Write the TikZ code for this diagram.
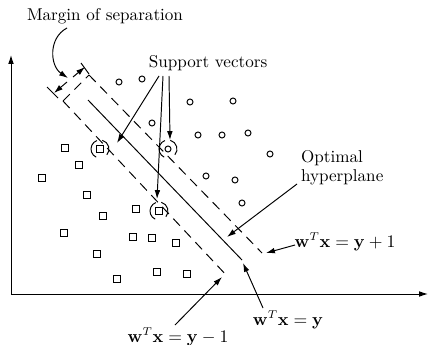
\documentclass[tikz,border=0pt]{standalone}
\usetikzlibrary{arrows.meta}
\begin{document}
\begin{tikzpicture}[x=0.62pt,y=-0.62pt,
  every path/.style={line width=0.6pt},
  arr/.style={-{Latex[length=5.5pt,width=3.5pt]}},
  dsh/.style={dash pattern=on 6pt off 4pt},
  lbl/.style={inner sep=1pt,font=\fontsize{10.6pt}{12pt}\selectfont}]
\useasboundingbox (0,0) rectangle (429,344);
% axes
\coordinate (O) at (11,294);
\coordinate (Ytop) at (11,55);
\coordinate (Xend) at (428,294);
\draw[arr] (O) -- (Ytop);
\draw[arr] (O) -- (Xend);
% hyperplanes
\coordinate (U1) at (89,75);
\coordinate (U2) at (262,253);
\coordinate (L1) at (63,101);
\coordinate (L2) at (228,277);
\coordinate (H1) at (88,100);
\coordinate (H2) at (242,260);
\draw[dsh] (U1) -- (U2);
\draw[dsh] (L1) -- (L2);
\draw[dsh] (L1) -- (U1);
\draw (H1) -- (H2);
% margin dimension
\coordinate (ba1) at (47,87); \coordinate (ba2) at (58,98);
\coordinate (bb1) at (81,63); \coordinate (bb2) at (89,74);
\draw (ba1) -- (ba2);
\draw (bb1) -- (bb2);
\coordinate (da) at (54,93);
\coordinate (db) at (85,67);
\coordinate (dm1) at (67,82);
\coordinate (dm2) at (73,77);
\draw[arr] (dm1) -- (da);
\draw[arr] (dm2) -- (db);
% circles
\foreach \p in {(119,82),(142,79),(190,102),(233,101),(152,123),(198,135),(222,135),(248,133),(270,154),(168,149),(206,176),(235,180),(242,203)}
  \draw \p circle[radius=3];
% squares
\foreach \x/\y in {65/148,100/149,79/165,42/178,87/195,103/216,136/209,159/211,64/233,133/237,152/238,176/243,97/254,157/272,187/274,117/279}
  \draw (\x-3.8,\y-3.8) rectangle (\x+3.8,\y+3.8);
% support vector brackets
\foreach \x/\y in {100/149,159/211,168/149}{
  \draw (\x,\y) ++(115:9) arc[start angle=115,end angle=250,radius=9];
  \draw (\x,\y) ++(-75:9) arc[start angle=-75,end angle=40,radius=9];
}
% labels
\node[lbl] (margin) at (105,16) {Margin of separation};
\node[lbl] (sv) at (208,63) {Support vectors};
\node[lbl,align=left,anchor=west] (opt) at (299,168) {Optimal\\hyperplane};
\node[lbl] (eqp) at (345,242) {$\mathbf{w}^T\mathbf{x} = \mathbf{y} + 1$};
\node[lbl] (eq0) at (288,320) {$\mathbf{w}^T\mathbf{x} = \mathbf{y}$};
\node[lbl] (eqm) at (178,337) {$\mathbf{w}^T\mathbf{x} = \mathbf{y} - 1$};
% connectors
\coordinate (m0) at (67,28);
\coordinate (m1) at (68,78);
\draw[arr] (m0) .. controls (48,38) and (50,66) .. (m1);
\coordinate (s1) at (159,76); \coordinate (t1) at (117,143);
\coordinate (s2) at (163,76); \coordinate (t2) at (157,199);
\coordinate (s3) at (169,76); \coordinate (t3) at (170,140);
\draw[arr] (s1) -- (t1);
\draw[arr] (s2) -- (t2);
\draw[arr] (s3) -- (t3);
\coordinate (o1) at (297,184); \coordinate (o2) at (227,237);
\draw[arr] (o1) -- (o2);
\coordinate (p1) at (295,245); \coordinate (p2) at (266,253);
\draw[arr] (p1) -- (p2);
\coordinate (z1) at (263,308); \coordinate (z2) at (243,263);
\draw[arr] (z1) -- (z2);
\coordinate (n1) at (175,325); \coordinate (n2) at (222,277);
\draw[arr] (n1) -- (n2);
\end{tikzpicture}
\end{document}
